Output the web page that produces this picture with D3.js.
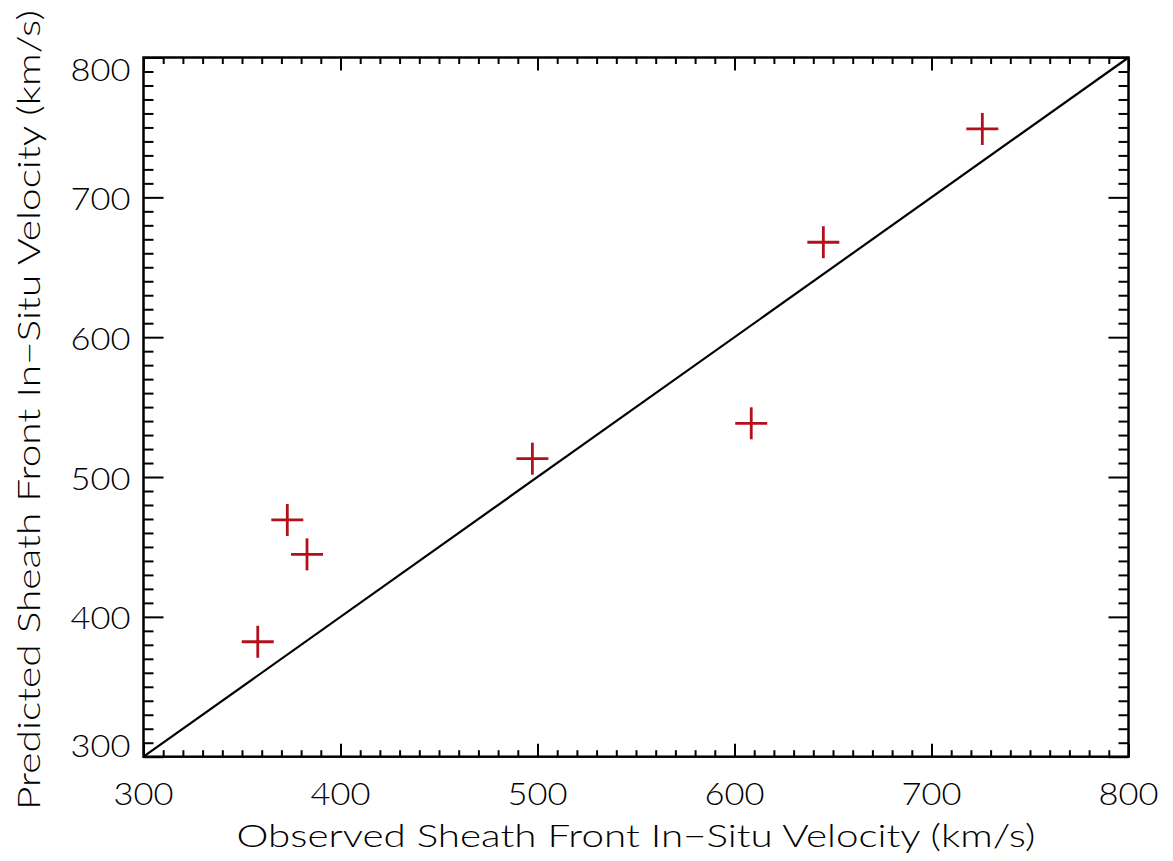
<!DOCTYPE html>
<html>
<head>
<meta charset="utf-8">
<script src="https://cdn.jsdelivr.net/npm/d3@7"></script>
<style>
  html, body { margin: 0; padding: 0; background: #fff; }
  svg { display: block; }
  text { font-family: "Lato", "DejaVu Sans", sans-serif; font-weight: 300; fill: #000; }
</style>
</head>
<body>
<svg id="chart" width="1173" height="861"></svg>
<script>
// Observed vs. predicted sheath-front in-situ velocity (km/s)
const observed  = [358, 373, 383, 497.4, 608.5, 645.1, 725.8];
const predicted = [382.2, 469.3, 444.7, 513.1, 538.4, 667.9, 748.9];
const xTicks = [300, 400, 500, 600, 700, 800];
const yTicks = [300, 400, 500, 600, 700, 800];
const xDomain = [300, 800];
const yDomain = [300, 800];
const xTitle = "Observed Sheath Front In\u2212Situ Velocity (km/s)";
const yTitle = "Predicted Sheath Front In\u2212Situ Velocity (km/s)";

const margin = { left: 143.5, top: 57.5, right: 1173 - 1128.5, bottom: 861 - 756.7 };
const W = 1173 - margin.left - margin.right;
const H = 861 - margin.top - margin.bottom;

const svg = d3.select("#chart");
const g = svg.append("g").attr("transform", `translate(${margin.left},${margin.top})`);

const x = d3.scaleLinear().domain(xDomain).range([0, W]);
const y = d3.scaleLinear().domain(yDomain).range([H, 0]);

const minorStep = 10;
const minorX = d3.range(xDomain[0], xDomain[1] + 1, minorStep).filter(v => v % 100 !== 0);
const minorY = d3.range(yDomain[0], yDomain[1] + 1, minorStep).filter(v => v % 100 !== 0);

function styleAxis(sel) {
  sel.select(".domain").remove();
  sel.selectAll(".tick line").attr("stroke", "#000").attr("stroke-width", 2);
  sel.selectAll(".tick text").remove();
}

// inward ticks on all four sides (x: 13/6.5 px, y: 20/10 px)
const axes = [
  [d3.axisBottom, x, `translate(0,${H})`, 13, 6.5, xTicks, minorX],
  [d3.axisTop,    x, `translate(0,0)`,    13, 6.5, xTicks, minorX],
  [d3.axisLeft,   y, `translate(0,0)`,    20, 10,  yTicks, minorY],
  [d3.axisRight,  y, `translate(${W},0)`, 20, 10,  yTicks, minorY]
];
axes.forEach(([gen, sc, tr, major, minor, majVals, minVals]) => {
  g.append("g").attr("transform", tr)
    .call(gen(sc).tickValues(minVals).tickSize(-minor).tickFormat(""))
    .call(styleAxis);
  g.append("g").attr("transform", tr)
    .call(gen(sc).tickValues(majVals).tickSize(-major).tickFormat(""))
    .call(styleAxis);
});

// frame
g.append("rect")
  .attr("x", 0).attr("y", 0).attr("width", W).attr("height", H)
  .attr("fill", "none").attr("stroke", "#000").attr("stroke-width", 2.5);

// tick labels
g.selectAll(".xlab").data(xTicks).enter().append("text")
  .attr("class", "xlab")
  .attr("x", d => x(d))
  .attr("y", H + 48.5)
  .attr("text-anchor", "middle")
  .attr("font-size", 31)
  .attr("textLength", 60)
  .attr("lengthAdjust", "spacingAndGlyphs")
  .text(d => d);

g.selectAll(".ylab").data(yTicks).enter().append("text")
  .attr("class", "ylab")
  .attr("x", -13)
  .attr("y", d => Math.min(Math.max(y(d) + 12.5, 23.2), H))
  .attr("text-anchor", "end")
  .attr("font-size", 31)
  .attr("textLength", 60)
  .attr("lengthAdjust", "spacingAndGlyphs")
  .text(d => d);

// axis titles
g.append("text")
  .attr("x", W / 2)
  .attr("y", H + 90.5)
  .attr("text-anchor", "middle")
  .attr("font-size", 31)
  .attr("textLength", 799)
  .attr("lengthAdjust", "spacingAndGlyphs")
  .text(xTitle);

svg.append("text")
  .attr("transform", `translate(40,410) rotate(-90)`)
  .attr("text-anchor", "middle")
  .attr("font-size", 31)
  .attr("textLength", 800)
  .attr("lengthAdjust", "spacingAndGlyphs")
  .text(yTitle);

// one-to-one reference line
g.append("line")
  .attr("x1", x(xDomain[0])).attr("y1", y(yDomain[0]))
  .attr("x2", x(xDomain[1])).attr("y2", y(yDomain[1]))
  .attr("stroke", "#000").attr("stroke-width", 2.2);

// data crosses
const pts = observed.map((o, i) => ({ o, p: predicted[i] }));
const arm = 16;
const cross = g.selectAll(".pt").data(pts).enter().append("g")
  .attr("class", "pt")
  .attr("transform", d => `translate(${x(d.o)},${y(d.p)})`);
cross.append("line").attr("x1", -arm).attr("x2", arm).attr("y1", 0).attr("y2", 0);
cross.append("line").attr("x1", 0).attr("x2", 0).attr("y1", -arm).attr("y2", arm);
cross.selectAll("line").attr("stroke", "#b3101c").attr("stroke-width", 2.8);
</script>
</body>
</html>
